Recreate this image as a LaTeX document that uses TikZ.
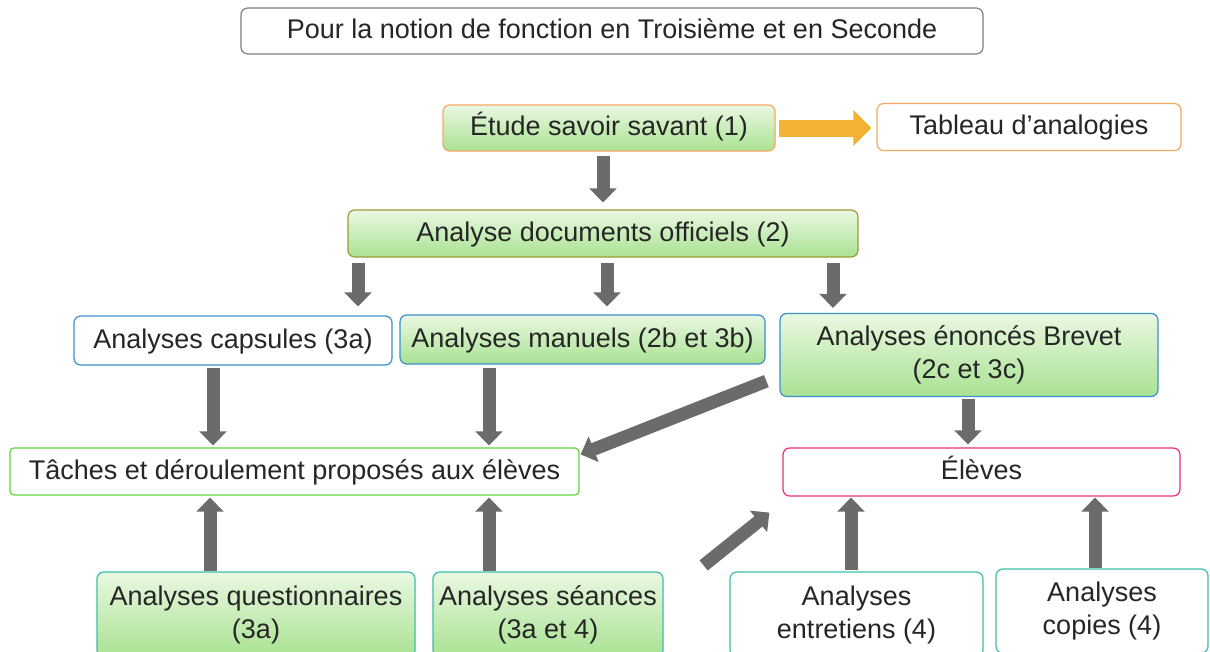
\documentclass[tikz,border=0pt]{standalone}
\usepackage{fontspec}
\setmainfont{Liberation Sans}
\usetikzlibrary{arrows.meta,calc}
\definecolor{txt}{HTML}{262626}
\definecolor{graybd}{HTML}{7F7F7F}
\definecolor{orangebd}{HTML}{F5A862}
\definecolor{olivebd}{HTML}{9E9A36}
\definecolor{bluebd}{HTML}{3A8FD0}
\definecolor{greenbd}{HTML}{5FD63E}
\definecolor{pinkbd}{HTML}{E8307E}
\definecolor{tealbd}{HTML}{3DBDA8}
\definecolor{gtop}{HTML}{EAF8E2}
\definecolor{gbot}{HTML}{A9E292}
\definecolor{garr}{HTML}{6B6B6B}
\definecolor{oarr}{HTML}{F4B234}
\begin{document}
\begin{tikzpicture}[x=0.75pt,y=-0.75pt,
  box/.style={draw, rounded corners=5pt, line width=0.9pt, text=txt,
    font=\fontsize{20.25}{24.75}\selectfont, align=center, inner sep=0pt, fill=white},
  oneline/.style={text height=15pt, text depth=3.75pt},
  dim/.style 2 args={minimum width=#1*0.75pt, minimum height=#2*0.75pt},
  grad/.style={top color=gtop, bottom color=gbot},
  garrow/.style={draw=garr, line width=9.75pt, -{Triangle[width=20pt,length=10.5pt]}},
  oarrow/.style={draw=oarr, line width=12.75pt, -{Triangle[width=26pt,length=13.5pt]}},
]
\useasboundingbox (0,0) rectangle (1210,651);
\clip (0,0) rectangle (1210,651);

% nodes
\node[box, oneline, draw=graybd, dim={742}{46}] (title) at (612,31) {Pour la notion de fonction en Troisième et en Seconde};
\node[box, oneline, draw=orangebd, grad, dim={332}{46}] (etude) at (609,128) {Étude savoir savant (1)};
\node[box, oneline, draw=orangebd, dim={304}{47}] (tableau) at (1029,127) {Tableau d’analogies};
\node[box, oneline, draw=olivebd, grad, dim={510}{47}] (docs) at (603,233.5) {Analyse documents officiels (2)};
\node[box, oneline, draw=bluebd, dim={318}{49}] (capsules) at (233,340.5) {Analyses capsules (3a)};
\node[box, oneline, draw=bluebd, grad, dim={365}{49}] (manuels) at (582.5,339.5) {Analyses manuels (2b et 3b)};
\node[box, draw=bluebd, grad, dim={378}{83}] (enonces) at (969,355) {Analyses énoncés Brevet\\(2c et 3c)};
\node[box, oneline, draw=greenbd, rounded corners=3pt, dim={569}{47}] (taches) at (294.5,471.5) {Tâches et déroulement proposés aux élèves};
\node[box, oneline, draw=pinkbd, dim={397}{48}] (eleves) at (981.5,472) {Élèves};
\node[box, draw=tealbd, grad, dim={318}{85}] (quest) at (256,614.5) {Analyses questionnaires\\(3a)};
\node[box, draw=tealbd, grad, dim={230}{85}] (seances) at (548,614.5) {Analyses séances\\(3a et 4)};
\node[box, draw=tealbd, dim={253}{85}] (entretiens) at (856.5,614.5) {Analyses\\entretiens (4)};
\node[box, draw=tealbd, dim={212}{84}] (copies) at (1102,611) {Analyses\\copies (4)};

% column coordinates
\coordinate (x603) at (603,0);
\coordinate (x358) at (358,0);
\coordinate (x607) at (607,0);
\coordinate (x833) at (833,0);
\coordinate (x213) at (213,0);
\coordinate (x489) at (489,0);
\coordinate (x968) at (968,0);
\coordinate (x210) at (210,0);
\coordinate (x851) at (851,0);
\coordinate (x1095) at (1095,0);

% arrows
\draw[oarrow, shorten <=2.25pt, shorten >=3.75pt] (etude.east) -- (etude.east -| tableau.west);
\draw[garrow, shorten <=3pt, shorten >=5.25pt] (etude.south -| x603) -- (docs.north -| x603);
\draw[garrow, shorten <=3.75pt, shorten >=6.75pt] (docs.south -| x358) -- (capsules.north -| x358);
\draw[garrow, shorten <=3.75pt, shorten >=6pt] (docs.south -| x607) -- (manuels.north -| x607);
\draw[garrow, shorten <=3.75pt, shorten >=3.75pt] (docs.south -| x833) -- (enonces.north -| x833);
\draw[garrow, shorten <=1.5pt, shorten >=1.5pt] (capsules.south -| x213) -- (taches.north -| x213);
\draw[garrow, shorten <=2.25pt, shorten >=1.5pt] (manuels.south -| x489) -- (taches.north -| x489);
\draw[garrow] ($(enonces.south west)+(-13,-16)$) -- ($(taches.north east)+(1,7)$);
\draw[garrow, shorten <=1.5pt, shorten >=2.25pt] (enonces.south -| x968) -- (eleves.north -| x968);
\draw[garrow, shorten >=1.5pt] (quest.north -| x210) -- (taches.south -| x210);
\draw[garrow, shorten >=1.5pt] (seances.north -| x489) -- (taches.south -| x489);
\draw[garrow] ($(seances.north east)+(40,-6)$) -- ($(eleves.south west)+(-13,16)$);
\draw[garrow, shorten <=0.75pt, shorten >=0.75pt] (entretiens.north -| x851) -- (eleves.south -| x851);
\draw[garrow, shorten >=0.75pt] (copies.north -| x1095) -- (eleves.south -| x1095);
\end{tikzpicture}
\end{document}
